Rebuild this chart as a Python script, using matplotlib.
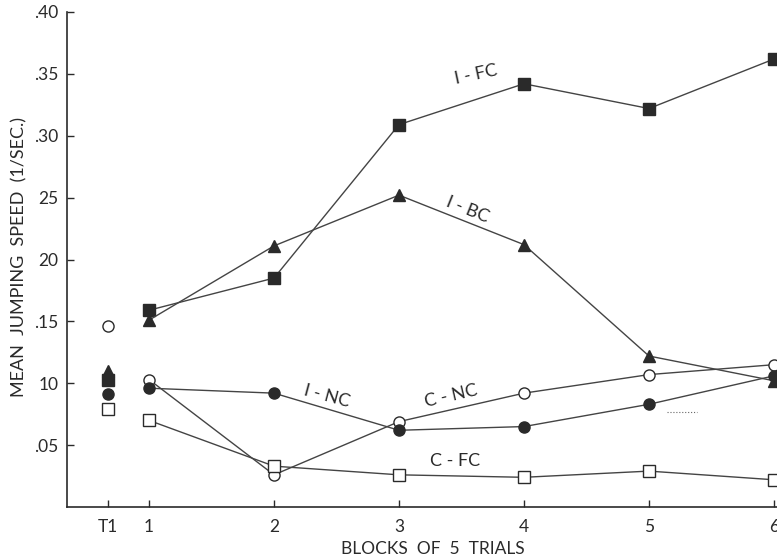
import numpy as np
import matplotlib.pyplot as plt

# block positions (T1 sits a bit left of block 1)
t1_pos = 0.67
blocks = [1, 2, 3, 4, 5, 6]
tick_pos = [t1_pos] + blocks
tick_labels = ["T1", "1", "2", "3", "4", "5", "6"]

# mean jumping speed per group, blocks 1-6
i_fc = [0.159, 0.185, 0.309, 0.342, 0.322, 0.362]
i_bc = [0.151, 0.211, 0.252, 0.212, 0.122, 0.102]
c_nc = [0.103, 0.026, 0.069, 0.092, 0.107, 0.115]
i_nc = [0.096, 0.092, 0.062, 0.065, 0.083, 0.106]
c_fc = [0.070, 0.033, 0.026, 0.024, 0.029, 0.022]

# first trial values (T1)
t1_vals = {"I-FC": 0.103, "I-BC": 0.110, "C-NC": 0.146, "I-NC": 0.091, "C-FC": 0.079}

y_ticks = [0.05, 0.10, 0.15, 0.20, 0.25, 0.30, 0.35, 0.40]
y_tick_labels = [".05", "10", ".15", "20", "25", ".30", ".35", ".40"]

ink = "#2a2a2a"
plt.rcParams['font.family'] = ['Lato', 'DejaVu Sans']

fig = plt.figure(figsize=(7.77, 5.59), dpi=100)
ax = fig.add_axes([67 / 777, 52 / 559, 1 - 67 / 777, (507 - 12) / 559])

series = [
    ("I-FC", i_fc, "s", ink),
    ("I-BC", i_bc, "^", ink),
    ("C-NC", c_nc, "o", "white"),
    ("I-NC", i_nc, "o", ink),
    ("C-FC", c_fc, "s", "white"),
]
for name, vals, mk, face in series:
    ax.plot(blocks, vals, color="#444444", lw=1.0, marker=mk, ms=8,
            mfc=face, mec=ink, mew=1.0, clip_on=False, zorder=3)
    ax.plot([t1_pos], [t1_vals[name]], linestyle="none", marker=mk, ms=8,
            mfc=face, mec=ink, mew=1.0, clip_on=False, zorder=3)

# small dotted smudge in the original
ax.plot([5.14, 5.38], [0.0767, 0.0767], color="#666666", lw=0.8, ls=":")

# group labels
lab = dict(fontsize=13, color=ink, ha="center", va="center")
ax.text(3.62, 0.349, "I - FC", rotation=12, **lab)
ax.text(3.55, 0.240, "I - BC", rotation=-22, **lab)
ax.text(2.42, 0.0895, "I - NC", rotation=-15, **lab)
ax.text(3.42, 0.0895, "C - NC", rotation=13, **lab)
ax.text(3.45, 0.037, "C - FC", rotation=0, **lab)

ax.set_xlim(0.344, 6.024)
ax.set_ylim(0, 0.40)
ax.set_xticks(tick_pos)
ax.set_xticklabels(tick_labels)
ax.set_yticks(y_ticks)
ax.set_yticklabels(y_tick_labels)
ax.tick_params(direction="in", length=5, width=1, colors=ink, labelsize=12.5)
ax.tick_params(axis="x", pad=9)
ax.tick_params(axis="y", pad=6)

for side in ["top", "right"]:
    ax.spines[side].set_visible(False)
for side in ["left", "bottom"]:
    ax.spines[side].set_color(ink)
    ax.spines[side].set_linewidth(1.2)

fig.text(433 / 777, 1 - 549 / 559, "BLOCKS  OF  5  TRIALS", fontsize=12.5,
         color=ink, ha="center", va="center")
fig.text(19 / 777, 1 - 257 / 559, "MEAN  JUMPING  SPEED  (1/SEC.)", fontsize=13,
         color=ink, ha="center", va="center", rotation=90)

fig.savefig("out.png", dpi=100)
